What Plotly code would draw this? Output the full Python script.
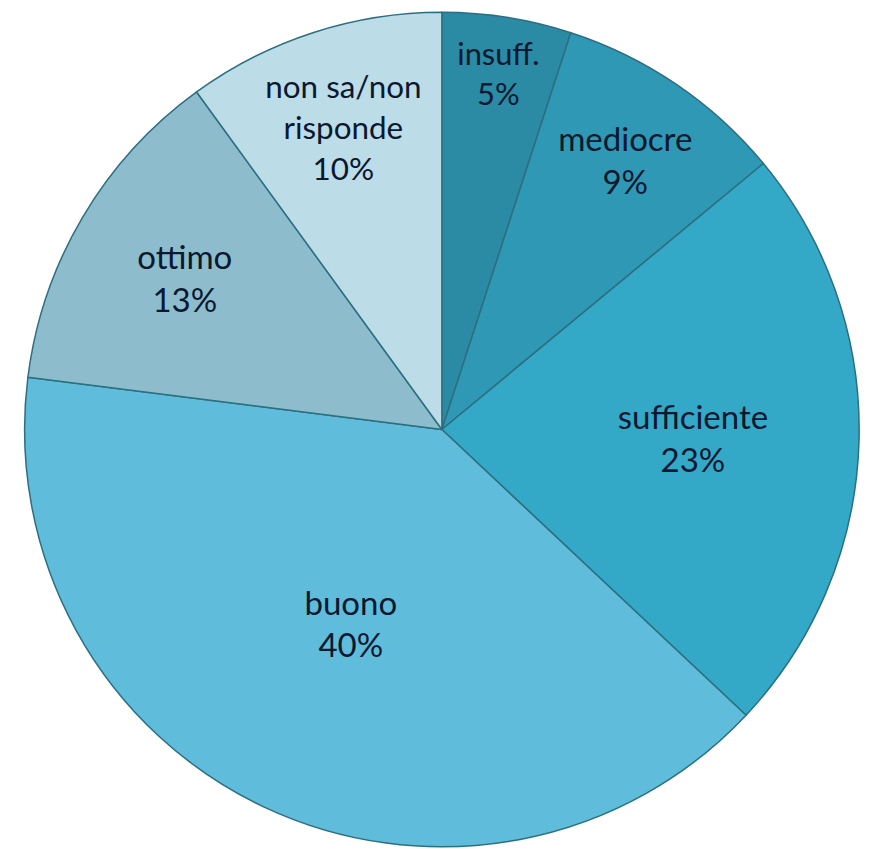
import plotly.graph_objects as go

labels = ["insuff.", "mediocre", "sufficiente", "buono", "ottimo", "non sa/non<br>risponde"]
values = [5, 9, 23, 40, 13, 10]
colors = ["#2b8aa4", "#2f98b4", "#34a8c7", "#60bcdb", "#8dbccd", "#bcdce7"]

fig = go.Figure(go.Pie(
    labels=labels,
    values=values,
    sort=False,
    direction="clockwise",
    rotation=0,
    marker=dict(colors=colors, line=dict(color="#2c6f80", width=1.5)),
    texttemplate="%{label}<br>%{percent:.0%}",
    textposition="inside",
    insidetextorientation="horizontal",
    textfont=dict(family="Lato", size=33, color="#0a1830"),
    domain=dict(x=[0.016, 0.978], y=[0.012, 0.995]),
))

fig.update_layout(
    width=873, height=849,
    margin=dict(l=0, r=0, t=0, b=0),
    showlegend=False,
    paper_bgcolor="white",
)

fig.write_html("out.html")
